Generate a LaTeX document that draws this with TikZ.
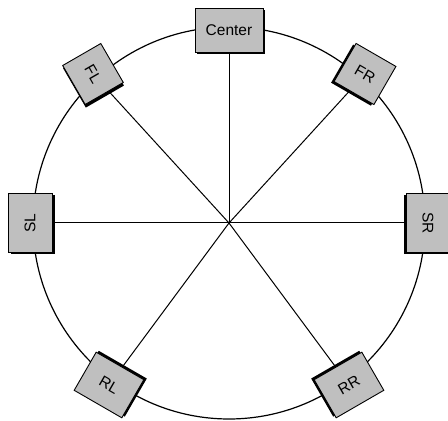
\documentclass[tikz,border=0pt]{standalone}
\usepackage{fontspec}
\setmainfont{Liberation Sans}
\usetikzlibrary{backgrounds}

\begin{document}
\begin{tikzpicture}[x=1pt, y=1pt, line width=0.9pt,
					spk/.style={draw=black, fill=black!25, minimum height=44pt, inner sep=0pt, font=\fontsize{15.5}{18}\selectfont, transform shape},
					shade/.style={fill=black},
					wire/.style={draw=black, line width=1pt}]
					\clip (0,0) rectangle (448,421);
					\coordinate (mid) at (229,198);
					\begin{scope}[shift={(229,391)}]
						\fill[shade] (-32,-24.5) rectangle (36,19.5);
						\node[spk, minimum width=68pt] (center) at (0,0) {Center};
					\end{scope}
					\begin{scope}[shift={(93,347)}, rotate=-60]
						\fill[shade] (-20,-23) rectangle (25.5,21);
						\node[spk, minimum width=45pt] (fl) at (0,0) {FL};
					\end{scope}
					\begin{scope}[shift={(365,347)}, rotate=-30]
						\fill[shade] (-25,-24.5) rectangle (21,19.5);
						\node[spk, minimum width=46pt] (fr) at (0,0) {FR};
					\end{scope}
					\begin{scope}[shift={(30,198)}, rotate=90]
						\fill[shade] (-31,-24.5) rectangle (28,19.5);
						\node[spk, minimum width=59pt] (sl) at (0,0) {SL};
					\end{scope}
					\begin{scope}[shift={(428,198)}, rotate=-90]
						\fill[shade] (-28,-24.5) rectangle (31,19.5);
						\node[spk, minimum width=59pt] (sr) at (0,0) {SR};
					\end{scope}
					\begin{scope}[shift={(109,36)}, rotate=-30]
						\fill[shade] (-26,-19.5) rectangle (29.5,24.5);
						\node[spk, minimum width=55pt] (rl) at (0,0) {RL};
					\end{scope}
					\begin{scope}[shift={(349,36)}, rotate=30]
						\fill[shade] (-29.5,-19.5) rectangle (26,24.5);
						\node[spk, minimum width=55pt] (rr) at (0,0) {RR};
					\end{scope}
					\begin{scope}[on background layer]
						\draw[wire, line width=1.2pt] (mid) circle[radius=196];
						\foreach \s in {center, fl, fr, sl, sr, rl, rr} \draw[wire] (mid) -- (\s.center);
					\end{scope}
				\end{tikzpicture}
\end{document}
